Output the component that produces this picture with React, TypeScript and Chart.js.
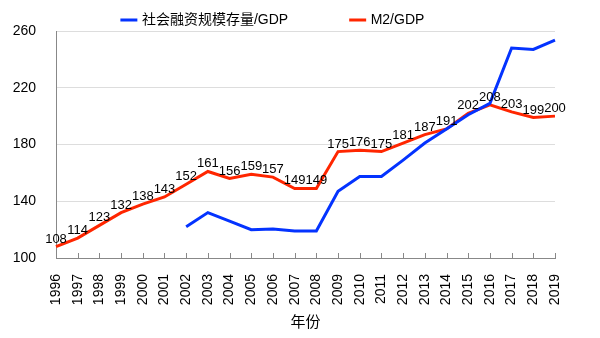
import React, { useEffect, useRef } from "react";
import { Chart, registerables } from "chart.js";

Chart.register(...registerables);

const years = [
  "1996", "1997", "1998", "1999", "2000", "2001", "2002", "2003", "2004", "2005", "2006", "2007",
  "2008", "2009", "2010", "2011", "2012", "2013", "2014", "2015", "2016", "2017", "2018", "2019",
];
const socialFinancing = [
  null, null, null, null, null, null, 122, 132, 126, 120, 120.5, 119,
  119, 147, 157.5, 157.5, 169, 181, 191, 201, 209, 248, 247, 253.5,
];
const m2 = [
  108, 114, 123, 132, 138, 143, 152, 161, 156, 159, 157, 149,
  149, 175, 176, 175, 181, 187, 191, 202, 208, 203, 199, 200,
];
const yTicks = [100, 140, 180, 220, 260];

const FONT = "'Liberation Sans', 'Noto Sans CJK SC', Arial, sans-serif";

const legendHeight = {
  id: "legendHeight",
  beforeInit(chart: any) {
    const orig = chart.legend.fit;
    chart.legend.fit = function () {
      orig.call(this);
      this.height = 31;
    };
  },
};

const innerTicks = {
  id: "innerTicks",
  beforeDatasetsDraw(chart: any) {
    const x = chart.scales.x;
    const ctx = chart.ctx;
    ctx.save();
    ctx.strokeStyle = "#888888";
    ctx.lineWidth = 1;
    ctx.beginPath();
    for (let i = 0; i < x.ticks.length; i++) {
      const px = Math.round(x.getPixelForTick(i)) + 0.5;
      ctx.moveTo(px, x.top);
      ctx.lineTo(px, x.top - 5);
    }
    ctx.stroke();
    ctx.restore();
  },
};

const dataLabels = {
  id: "dataLabels",
  afterDatasetsDraw(chart: any) {
    const ctx = chart.ctx;
    const meta = chart.getDatasetMeta(1);
    const data = chart.data.datasets[1].data;
    ctx.save();
    ctx.fillStyle = "#000000";
    ctx.font = `13px ${FONT}`;
    ctx.textAlign = "center";
    ctx.textBaseline = "alphabetic";
    meta.data.forEach((pt: any, i: number) => {
      ctx.fillText(String(data[i]), pt.x, pt.y - 4);
    });
    ctx.restore();
  },
};

export default function App() {
  const ref = useRef<HTMLCanvasElement>(null);
  useEffect(() => {
    document.body.style.margin = "0";
    const chart = new Chart(ref.current!, {
      type: "line",
      data: {
        labels: years,
        datasets: [
          {
            label: "社会融资规模存量/GDP" + " ".repeat(13),
            data: socialFinancing,
            borderColor: "#0433FF",
            backgroundColor: "#0433FF",
            borderWidth: 3,
            pointRadius: 0,
            tension: 0,
          },
          {
            label: "M2/GDP" + " ".repeat(2),
            data: m2,
            borderColor: "#FF2600",
            backgroundColor: "#FF2600",
            borderWidth: 3,
            pointRadius: 0,
            tension: 0,
          },
        ],
      },
      options: {
        responsive: false,
        animation: false,
        layout: { padding: { left: 0, right: 45, top: 0, bottom: 0 } },
        plugins: {
          legend: {
            position: "top",
            labels: {
              usePointStyle: true,
              pointStyle: "line",
              boxWidth: 12,
              boxHeight: 12,
              padding: 13,
              color: "#000000",
              font: { size: 14, family: FONT },
            },
          },
          tooltip: { enabled: false },
        },
        scales: {
          x: {
            offset: false,
            grid: { display: false },
            border: { display: true, color: "#888888", width: 1 },
            ticks: {
              maxRotation: 90,
              minRotation: 90,
              autoSkip: false,
              padding: 8,
              color: "#000000",
              font: { size: 14, family: FONT },
            },
            title: {
              display: true,
              text: "年份",
              color: "#000000",
              font: { size: 15, family: FONT },
              padding: { top: 2, bottom: 6 },
            },
            afterFit(scale: any) {
              scale.height = 80;
            },
          },
          y: {
            min: 100,
            max: 260,
            afterBuildTicks(scale: any) {
              scale.ticks = yTicks.map((v) => ({ value: v }));
            },
            grid: { color: "#DDDDDD", lineWidth: 1, drawTicks: false },
            border: { display: true, color: "#888888", width: 1 },
            ticks: {
              padding: 20,
              color: "#000000",
              font: { size: 14, family: FONT },
            },
            afterFit(scale: any) {
              scale.width = 56;
            },
          },
        },
      },
      plugins: [legendHeight, innerTicks, dataLabels],
    });
    return () => chart.destroy();
  }, []);
  return (
    <div style={{ position: "absolute", left: 0, top: 0, width: 600, height: 338 }}>
      <canvas ref={ref} width={600} height={338} />
    </div>
  );
}
